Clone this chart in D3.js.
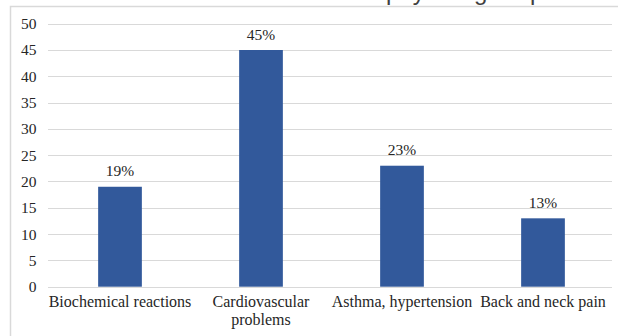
<!DOCTYPE html>
<html>
<head>
<meta charset="utf-8">
<script src="https://cdn.jsdelivr.net/npm/d3@7"></script>
<style>
  html, body { margin: 0; padding: 0; background: #fff; }
  svg { display: block; }
</style>
</head>
<body>
<svg id="chart" width="618" height="336"></svg>
<script>
// Share of respondents by reported problem
const categories = [
  ["Biochemical reactions"],
  ["Cardiovascular", "problems"],
  ["Asthma, hypertension"],
  ["Back and neck pain"]
];
const values = [19, 45, 23, 13];
const valueLabels = ["19%", "45%", "23%", "13%"];
const yTicks = [0, 5, 10, 15, 20, 25, 30, 35, 40, 45, 50];
const titleText = "Distribution of the most common physiological problems";

const W = 618, H = 336;
const margin = { top: 23.7, right: 4.5, bottom: 49.3, left: 49.5 };
const svg = d3.select("#chart");
const SERIF = '"Liberation Serif"';

// chart frame (top and left edges visible)
svg.append("path")
  .attr("d", `M10.5,${H} L10.5,6.5 L${W},6.5`)
  .attr("fill", "none")
  .attr("stroke", "#d9d9d9")
  .attr("stroke-width", 1.5);

// title sits mostly above the visible area
const title = svg.append("text")
  .attr("x", 0)
  .attr("y", 0)
  .style("font-family", '"Liberation Sans"')
  .style("font-size", "24px")
  .attr("fill", "#404040")
  .text(titleText);
const keyIdx = titleText.indexOf("physiological");
const keyX = title.node().getStartPositionOfChar(keyIdx).x;
title.attr("x", 386 - keyX);

const x = d3.scaleBand()
  .domain(d3.range(categories.length))
  .range([margin.left, W - margin.right])
  .paddingInner(0.69)
  .paddingOuter(0.345);

const y = d3.scaleLinear()
  .domain([0, 50])
  .range([H - margin.bottom, margin.top]);

// gridlines
svg.append("g")
  .selectAll("line")
  .data(yTicks)
  .join("line")
  .attr("x1", 48)
  .attr("x2", 612)
  .attr("y1", d => Math.round(y(d)) + 0.5)
  .attr("y2", d => Math.round(y(d)) + 0.5)
  .attr("stroke", "#d9d9d9")
  .attr("stroke-width", 1);

// y axis labels
const yAxis = d3.axisLeft(y).tickValues(yTicks).tickSize(0).tickPadding(0);
const gy = svg.append("g")
  .attr("transform", "translate(36.5,0)")
  .call(yAxis);
gy.select(".domain").remove();
gy.selectAll("text")
  .style("font-family", SERIF)
  .style("font-size", "15.5px")
  .attr("fill", "#262626");

// bars
svg.append("g")
  .selectAll("rect")
  .data(values)
  .join("rect")
  .attr("x", (d, i) => x(i))
  .attr("width", x.bandwidth())
  .attr("y", d => y(d))
  .attr("height", d => y(0) - y(d))
  .attr("fill", "#32599b");

// value labels
svg.append("g")
  .selectAll("text")
  .data(values)
  .join("text")
  .attr("x", (d, i) => x(i) + x.bandwidth() / 2)
  .attr("y", d => y(d) - 10.5)
  .attr("text-anchor", "middle")
  .style("font-family", SERIF)
  .style("font-size", "15.5px")
  .attr("fill", "#262626")
  .text((d, i) => valueLabels[i]);

// category labels
const cat = svg.append("g")
  .selectAll("text")
  .data(categories)
  .join("text")
  .attr("x", (d, i) => x(i) + x.bandwidth() / 2)
  .attr("y", 307)
  .attr("text-anchor", "middle")
  .style("font-family", SERIF)
  .style("font-size", "16px")
  .attr("fill", "#262626");
cat.selectAll("tspan")
  .data(d => d)
  .join("tspan")
  .attr("x", function () { return d3.select(this.parentNode).attr("x"); })
  .attr("dy", (d, i) => i === 0 ? 0 : 18)
  .text(d => d);
</script>
</body>
</html>
